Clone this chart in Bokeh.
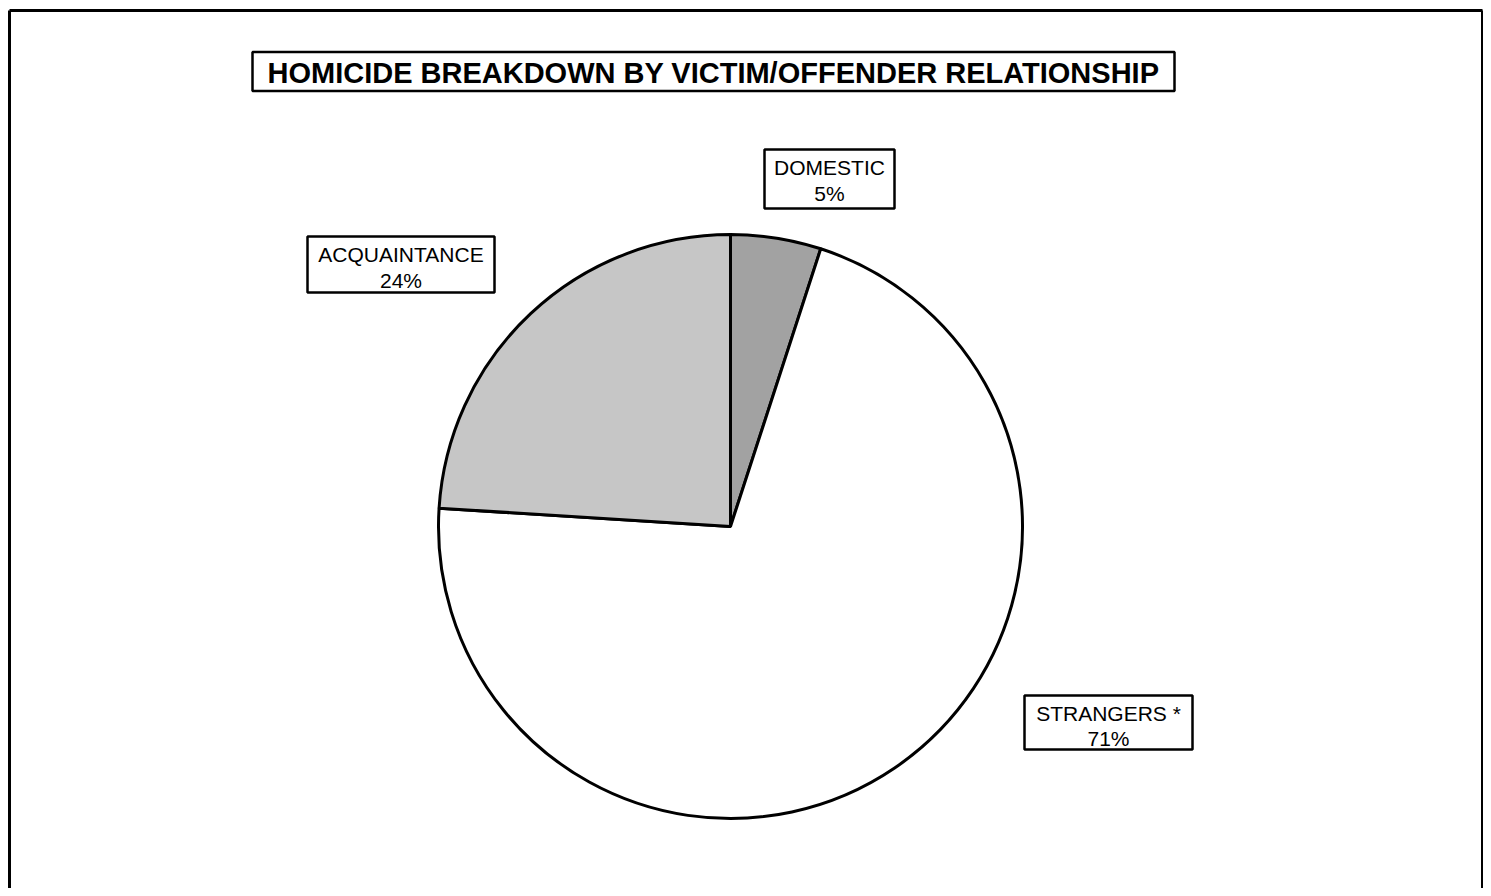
import math
from bokeh.plotting import figure
from bokeh.models import Range1d, ColumnDataSource
from bokeh.core.properties import value
from bokeh.embed import file_html
from bokeh.resources import INLINE

# ---- data ----
categories = ["DOMESTIC", "STRANGERS", "ACQUAINTANCE"]
label_names = ["DOMESTIC", "STRANGERS *", "ACQUAINTANCE"]
percent = [5, 71, 24]
colors = ["#a2a2a2", "#ffffff", "#c6c6c6"]
title_text = "HOMICIDE BREAKDOWN BY VICTIM/OFFENDER RELATIONSHIP"

# ---- layout (pixel-like data coordinates, pie centre at 0,0) ----
W, H = 1483, 888
CX_IMG, CY_IMG = 730, 526
R = 292

def dx(px):
    return px - CX_IMG

def dy(py):
    return CY_IMG - py

p = figure(width=W, height=H, output_backend="svg", toolbar_location=None,
           x_range=Range1d(-CX_IMG, -CX_IMG + W),
           y_range=Range1d(CY_IMG - H, CY_IMG),
           min_border=0, background_fill_color="white", border_fill_color="white")
p.axis.visible = False
p.grid.visible = False
p.outline_line_color = None

# pie wedges (clockwise from 12 o'clock)
total = sum(percent)
starts, ends = [], []
a = math.pi / 2
for v in percent:
    starts.append(a)
    a -= v / total * 2 * math.pi
    ends.append(a)
src = ColumnDataSource(dict(cat=categories, start=starts, end=ends, color=colors))
p.wedge(x=0, y=0, radius=R, start_angle="start", end_angle="end", direction="clock",
        fill_color="color", line_color="black", line_width=3, source=src)

# outer frame (left, top, right; bottom lies beyond the page)
p.segment(x0=[dx(9), dx(9), dx(1482)], y0=[dy(900), dy(10), dy(10)],
          x1=[dx(9), dx(1482), dx(1482)], y1=[dy(10), dy(10), dy(900)],
          line_color="black", line_width=3)

# title box
p.rect(x=dx(713), y=dy(71), width=922, height=39, fill_color="white",
       line_color="black", line_width=2.5)
p.text(x=[dx(713)], y=[dy(72)], text=[title_text], text_font=value("Liberation Sans"),
       text_font_style="bold", text_font_size="29px", text_align="center",
       text_baseline="middle", text_color="black")

# label boxes: DOMESTIC, STRANGERS, ACQUAINTANCE
box_x = [dx(829), dx(1108), dx(400.5)]
box_y = [dy(178.5), dy(722), dy(264)]
box_w = [130, 168, 187]
box_h = [59, 54, 56]
p.rect(x=box_x, y=box_y, width=box_w, height=box_h, fill_color="white",
       line_color="black", line_width=2.5)
line1_y = [dy(167), dy(713), dy(254)]
line2_y = [dy(193), dy(738), dy(280)]
p.text(x=box_x, y=line1_y, text=label_names, text_font=value("Liberation Sans"),
       text_font_size="21px", text_align="center", text_baseline="middle",
       text_color="black")
p.text(x=box_x, y=line2_y, text=[f"{v}%" for v in percent],
       text_font=value("Liberation Sans"), text_font_size="21px",
       text_align="center", text_baseline="middle", text_color="black")

open("out.html", "w").write(file_html(p, INLINE))
